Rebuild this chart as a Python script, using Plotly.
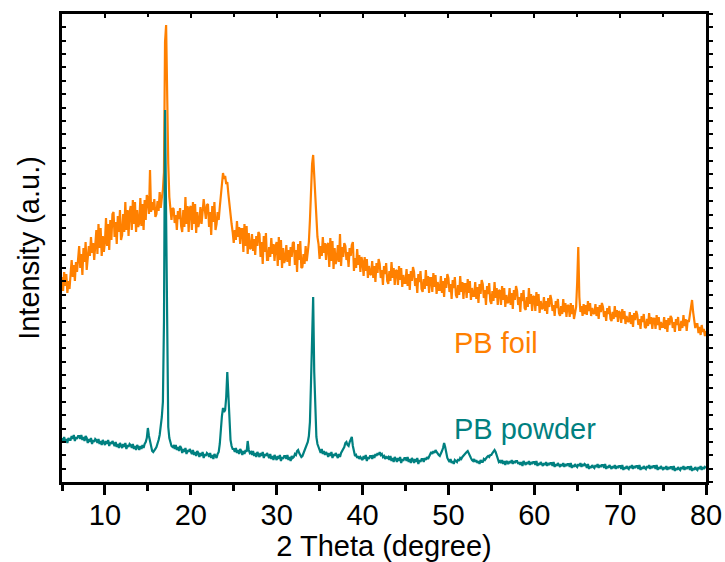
import numpy as np
import plotly.graph_objects as go

# scan grid: 5 to 80 degrees, step 0.125
two_theta = np.linspace(5, 80, 601)

# PB foil intensity (a.u.), 8 values per degree starting at 5.000
pb_foil = [
    205, 191, 210, 196, 208, 189, 201, 193,   # 5
    208, 222, 205, 217, 201, 220, 210, 224,   # 6
    236, 214, 228, 207, 234, 220, 240, 212,   # 7
    223, 236, 226, 245, 229, 239, 222, 237,   # 8
    252, 228, 258, 234, 254, 226, 246, 230,   # 9
    240, 264, 236, 258, 232, 262, 242, 268,   # 10
    270, 245, 260, 238, 266, 250, 272, 242,   # 11
    247, 268, 250, 280, 252, 272, 246, 270,   # 12
    276, 252, 282, 258, 280, 250, 272, 255,   # 13
    259, 284, 256, 278, 252, 282, 262, 287,   # 14
    282, 268, 312, 270, 280, 272, 283, 265,   # 15
    268, 281, 271, 290, 274, 284, 292, 310,   # 16
    440, 457, 350, 318, 285, 268, 262, 274,   # 17
    273, 259, 267, 252, 271, 263, 274, 256,   # 18
    250, 272, 255, 285, 258, 276, 250, 274,   # 19
    276, 252, 280, 258, 278, 249, 270, 255,   # 20
    261, 275, 258, 270, 283, 273, 263, 277,   # 21
    278, 255, 270, 247, 276, 260, 280, 252,   # 22
    258, 270, 262, 275, 285, 300, 309, 303,   # 23
    306, 298, 300, 288, 276, 266, 258, 250,   # 24
    239, 252, 242, 261, 245, 255, 238, 253,   # 25
    253, 230, 258, 236, 256, 228, 249, 233,   # 26
    234, 248, 231, 243, 227, 246, 236, 250,   # 27
    248, 225, 240, 218, 246, 230, 249, 222,   # 28
    222, 235, 225, 244, 228, 238, 221, 236,   # 29
    240, 216, 245, 222, 242, 214, 234, 219,   # 30
    223, 237, 220, 232, 216, 235, 225, 239,   # 31
    240, 217, 232, 210, 238, 222, 241, 214,   # 32
    215, 228, 218, 236, 221, 230, 240, 262,   # 33
    295, 318, 327, 305, 285, 262, 245, 238,   # 34
    223, 236, 226, 245, 229, 239, 222, 237,   # 35
    239, 215, 244, 221, 241, 213, 234, 218,   # 36
    223, 237, 220, 248, 216, 235, 225, 239,   # 37
    236, 222, 230, 215, 234, 226, 237, 240,   # 38
    211, 224, 214, 233, 217, 227, 210, 225,   # 39
    220, 206, 225, 211, 223, 204, 216, 208,   # 40
    207, 221, 204, 216, 200, 219, 209, 223,   # 41
    218, 204, 212, 197, 216, 208, 219, 201,   # 42
    198, 211, 201, 220, 204, 214, 197, 212,   # 43
    211, 197, 216, 202, 214, 195, 207, 199,   # 44
    199, 213, 196, 208, 192, 211, 201, 215,   # 45
    210, 196, 204, 189, 208, 200, 211, 193,   # 46
    190, 203, 193, 212, 196, 206, 189, 204,   # 47
    204, 190, 209, 195, 207, 188, 200, 192,   # 48
    192, 206, 189, 201, 185, 204, 194, 208,   # 49
    204, 190, 198, 183, 202, 194, 205, 187,   # 50
    184, 197, 187, 206, 190, 200, 183, 198,   # 51
    198, 184, 203, 189, 201, 182, 194, 186,   # 52
    186, 200, 183, 195, 179, 198, 188, 202,   # 53
    198, 184, 192, 177, 196, 188, 199, 181,   # 54
    178, 191, 181, 200, 184, 194, 177, 192,   # 55
    191, 177, 196, 182, 194, 175, 187, 179,   # 56
    180, 194, 177, 189, 173, 192, 182, 196,   # 57
    191, 177, 185, 170, 189, 181, 192, 174,   # 58
    172, 185, 175, 194, 178, 188, 171, 186,   # 59
    185, 171, 190, 176, 188, 169, 181, 173,   # 60
    174, 185, 171, 181, 168, 184, 175, 187,   # 61
    182, 171, 177, 166, 181, 174, 183, 169,   # 62
    166, 176, 168, 183, 170, 179, 165, 177,   # 63
    176, 165, 179, 168, 177, 163, 172, 175,   # 64
    200, 235, 185, 170, 176, 166, 178, 168,   # 65
    177, 167, 181, 171, 179, 166, 174, 169,   # 66
    168, 178, 166, 175, 163, 177, 170, 179,   # 67
    175, 165, 171, 161, 174, 168, 176, 163,   # 68
    161, 170, 163, 176, 165, 172, 160, 171,   # 69
    169, 159, 173, 163, 171, 158, 166, 161,   # 70
    160, 170, 158, 167, 155, 169, 162, 171,   # 71
    167, 157, 163, 153, 166, 160, 168, 155,   # 72
    154, 163, 156, 169, 158, 165, 153, 164,   # 73
    163, 153, 167, 157, 165, 152, 160, 155,   # 74
    155, 165, 153, 162, 150, 164, 157, 166,   # 75
    164, 154, 160, 150, 163, 157, 165, 152,   # 76
    152, 161, 154, 167, 156, 163, 151, 162,   # 77
    160, 168, 176, 182, 170, 160, 154, 158,   # 78
    158, 149, 155, 147, 157, 150, 153, 146,   # 79
    151,                                      # 80
]

# PB powder intensity (a.u.)
pb_powder = [
    44, 41, 45, 40, 43, 39, 44, 42,   # 5
    42, 46, 43, 47, 41, 45, 43, 46,   # 6
    46, 43, 47, 42, 45, 41, 46, 44,   # 7
    39, 43, 40, 44, 38, 42, 40, 43,   # 8
    42, 39, 43, 38, 41, 37, 42, 40,   # 9
    37, 41, 38, 42, 36, 40, 38, 41,   # 10
    39, 36, 40, 35, 38, 34, 39, 37,   # 11
    34, 38, 35, 39, 33, 37, 35, 38,   # 12
    37, 34, 38, 33, 36, 32, 37, 35,   # 13
    32, 36, 33, 37, 34, 38, 40, 44,   # 14
    54, 46, 40, 35, 31, 30, 31, 33,   # 15
    35, 38, 42, 47, 55, 65, 80, 160,  # 16
    372, 250, 95, 55, 44, 38, 36, 35, # 17
    36, 33, 37, 32, 35, 31, 36, 34,   # 18
    29, 33, 30, 34, 28, 32, 30, 33,   # 19
    31, 28, 32, 27, 30, 26, 31, 29,   # 20
    25, 29, 26, 30, 24, 28, 26, 29,   # 21
    28, 25, 29, 24, 27, 23, 28, 26,   # 22
    24, 28, 30, 38, 55, 66, 74, 70,   # 23
    72, 85, 110, 90, 58, 42, 36, 33,  # 24
    33, 30, 34, 29, 32, 28, 33, 31,   # 25
    27, 31, 28, 32, 30, 41, 32, 29,   # 26
    30, 27, 31, 26, 29, 25, 30, 28,   # 27
    25, 29, 26, 30, 24, 28, 26, 29,   # 28
    27, 24, 28, 23, 26, 22, 27, 25,   # 29
    22, 26, 23, 27, 21, 25, 23, 26,   # 30
    26, 23, 27, 22, 25, 21, 26, 24,   # 31
    25, 28, 27, 31, 32, 29, 27, 25,   # 32
    26, 29, 31, 34, 36, 40, 46, 60,   # 33
    100, 150, 185, 110, 65, 45, 38, 34,  # 34
    32, 29, 33, 28, 31, 27, 30, 28,   # 35
    25, 29, 26, 30, 24, 28, 26, 29,   # 36
    27, 24, 28, 25, 29, 31, 33, 35,   # 37
    39, 40, 37, 36, 40, 43, 45, 36,   # 38
    29, 26, 27, 24, 26, 23, 25, 24,   # 39
    22, 26, 23, 27, 21, 25, 23, 26,   # 40
    26, 23, 27, 24, 28, 26, 29, 27,   # 41
    30, 27, 28, 25, 26, 23, 25, 24,   # 42
    25, 22, 26, 21, 24, 20, 25, 23,   # 43
    20, 24, 21, 25, 19, 23, 21, 24,   # 44
    24, 21, 25, 20, 23, 19, 24, 22,   # 45
    19, 23, 20, 24, 18, 22, 20, 23,   # 46
    23, 20, 24, 22, 25, 23, 26, 28,   # 47
    30, 28, 31, 29, 32, 30, 28, 27,   # 48
    26, 28, 31, 34, 39, 35, 29, 24,   # 49
    22, 20, 23, 19, 21, 18, 22, 21,   # 50
    20, 23, 21, 24, 23, 25, 26, 27,   # 51
    28, 30, 31, 28, 26, 24, 22, 21,   # 52
    23, 20, 22, 19, 21, 18, 22, 20,   # 53
    20, 23, 22, 24, 25, 26, 25, 27,   # 54
    27, 29, 30, 32, 30, 26, 22, 20,   # 55
    21, 19, 22, 18, 21, 17, 21, 20,   # 56
    18, 21, 19, 22, 18, 21, 19, 21,   # 57
    21, 18, 20, 17, 20, 16, 21, 19,   # 58
    17, 20, 18, 21, 17, 20, 18, 20,   # 59
    20, 17, 21, 16, 19, 17, 20, 18,   # 60
    16, 19, 17, 20, 16, 19, 17, 19,   # 61
    19, 16, 20, 15, 18, 16, 19, 17,   # 62
    15, 18, 16, 19, 15, 18, 16, 18,   # 63
    18, 15, 19, 14, 17, 15, 18, 16,   # 64
    15, 18, 16, 19, 15, 18, 16, 18,   # 65
    17, 14, 18, 13, 16, 14, 17, 15,   # 66
    14, 17, 15, 18, 14, 17, 15, 17,   # 67
    17, 14, 18, 13, 16, 14, 17, 15,   # 68
    13, 16, 14, 17, 13, 16, 14, 16,   # 69
    16, 13, 17, 12, 15, 13, 16, 14,   # 70
    13, 16, 14, 17, 13, 16, 14, 16,   # 71
    16, 13, 17, 12, 15, 13, 16, 14,   # 72
    13, 16, 14, 17, 13, 16, 14, 16,   # 73
    16, 13, 17, 12, 15, 13, 16, 14,   # 74
    12, 15, 13, 16, 12, 15, 13, 15,   # 75
    15, 12, 16, 11, 14, 12, 15, 13,   # 76
    12, 15, 13, 16, 12, 15, 13, 15,   # 77
    15, 12, 16, 11, 14, 12, 15, 13,   # 78
    12, 15, 13, 16, 12, 15, 13, 15,   # 79
    14,                               # 80
]

x_ticks = [10, 20, 30, 40, 50, 60, 70, 80]
labels = ["PB foil", "PB powder"]
label_pos = [(50.4, 139), (50.4, 53.5)]

FOIL = "#FF8000"
POWDER = "#008080"
FONT = "Arial, Liberation Sans, sans-serif"

fig = go.Figure()
fig.add_trace(go.Scatter(x=two_theta, y=pb_foil, mode="lines",
                         line=dict(color=FOIL, width=2.2), showlegend=False))
fig.add_trace(go.Scatter(x=two_theta, y=pb_powder, mode="lines",
                         line=dict(color=POWDER, width=2.2), showlegend=False))
# invisible trace to anchor the mirror axes
fig.add_trace(go.Scatter(x=[None], y=[None], xaxis="x2", yaxis="y2",
                         mode="lines", showlegend=False, hoverinfo="skip"))

for (lx, ly), txt, col in zip(label_pos, labels, [FOIL, POWDER]):
    fig.add_annotation(x=lx, y=ly, text=txt, showarrow=False, xanchor="left",
                       yanchor="middle", font=dict(family=FONT, size=29, color=col))

fig.update_layout(
    width=725, height=562,
    margin=dict(l=62, r=19, t=14, b=80),
    paper_bgcolor="white", plot_bgcolor="white",
    font=dict(family=FONT, size=29, color="black"),
    xaxis=dict(range=[5, 80], tickvals=x_ticks, ticks="outside", ticklen=10,
               tickwidth=3, tickcolor="black", automargin=False,
               ticklabelstandoff=-5,
               minor=dict(dtick=5, tick0=5, ticks="outside", ticklen=6,
                          tickwidth=3, tickcolor="black"),
               showline=True, linewidth=3, linecolor="black", showgrid=False,
               zeroline=False, tickfont=dict(size=29),
               title=dict(text="2 Theta (degree)", font=dict(size=29), standoff=0)),
    xaxis2=dict(range=[5, 80], overlaying="x", side="top", anchor="y",
                tickvals=x_ticks, ticks="inside", ticklen=4, tickwidth=2,
                tickcolor="black", automargin=False,
                minor=dict(dtick=5, tick0=5, ticks="inside", ticklen=3,
                           tickwidth=2, tickcolor="black"),
                showticklabels=False, showline=True, linewidth=3,
                linecolor="black", showgrid=False, zeroline=False),
    yaxis=dict(range=[0, 468], tick0=0, dtick=468 / 35, ticks="inside",
               ticklen=4, tickwidth=2, tickcolor="black", automargin=False,
               showticklabels=False, showline=True, linewidth=3,
               linecolor="black", showgrid=False, zeroline=False,
               title=dict(text="Intensity (a.u.)", font=dict(size=29), standoff=11)),
    yaxis2=dict(range=[0, 468], overlaying="y", side="right", anchor="x",
                tick0=0, dtick=468 / 35, ticks="outside", ticklen=4,
                tickwidth=2, tickcolor="black", showticklabels=False,
                automargin=False,
                showline=True, linewidth=3, linecolor="black",
                showgrid=False, zeroline=False),
)

# remove the default page margin so the figure fills the 725x562 window exactly
fig.write_html("out.html",
               config={"displayModeBar": False},
               post_script="document.body.style.margin='0';"
                           "document.body.style.overflow='hidden';")
